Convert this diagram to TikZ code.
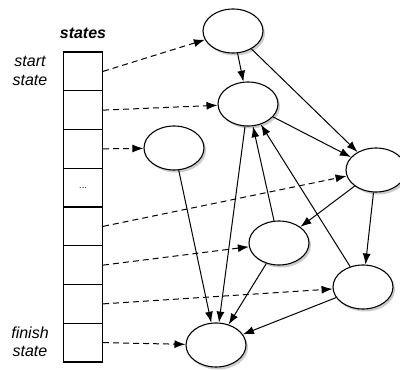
\documentclass[tikz,border=0pt]{standalone}
\usepackage{fontspec}
\setmainfont{Liberation Sans}
\usetikzlibrary{shapes.geometric,arrows.meta,shadows}

\tikzset{
  state/.style={ellipse, draw, line width=1.1pt, fill=white,
    minimum width=60pt, minimum height=44pt, inner sep=0pt,
    drop shadow={opacity=0.4, shadow xshift=2pt, shadow yshift=-2.5pt}},
  cell/.style={rectangle, draw, line width=1.1pt,
    minimum width=39pt, minimum height=38.75pt, inner sep=0pt},
  link/.style={-{Latex[length=11pt,width=8pt]}, line width=1pt},
  ptr/.style={link, dash pattern=on 6pt off 4pt},
  lbl/.style={font=\fontsize{16}{18.5}\selectfont\itshape, align=center},
}

\begin{document}
\begin{tikzpicture}[x=1pt,y=-1pt]
\useasboundingbox (0,0) rectangle (400,370);

% the array of states
\node[lbl, font=\fontsize{16}{18.5}\selectfont\bfseries\itshape] (title) at (83,33) {states};
\foreach \i in {1,...,8}
  \node[cell] (c\i) at (83,{52+38.75*(\i-0.5)}) {};
\node[font=\small] (dots) at (c4) {...};
\node[lbl] (start) at (30,71) {start\\state};
\node[lbl] (finish) at (30,342) {finish\\state};

% the graph
\node[state] (A) at (233,31) {};
\node[state] (B) at (248,104) {};
\node[state] (C) at (174,148) {};
\node[state] (D) at (376,170) {};
\node[state] (E) at (279,243) {};
\node[state] (F) at (363,287) {};
\node[state] (G) at (216,345) {};

% pointers from the array
\draw[ptr] (c1.east) -- (A);
\draw[ptr] (c2.east) -- (B);
\draw[ptr] (c3.east) -- (C);
\draw[ptr] (c5.east) -- (D);
\draw[ptr] (c6.east) -- (E);
\draw[ptr] (c7.east) -- (F);
\draw[ptr] (c8.east) -- (G);

% edges
\draw[link] (A) -- (B);
\draw[link] (A) -- (D);
\draw[link] (B) -- (D);
\draw[link] (B) -- (G);
\draw[link] (C) -- (G);
\draw[link] (D) -- (E);
\draw[link] (D) -- (F);
\draw[link] (E) -- (B);
\draw[link] (F) -- (B);
\draw[link] (E) -- (G);
\draw[link] (F) -- (G);
\end{tikzpicture}
\end{document}
